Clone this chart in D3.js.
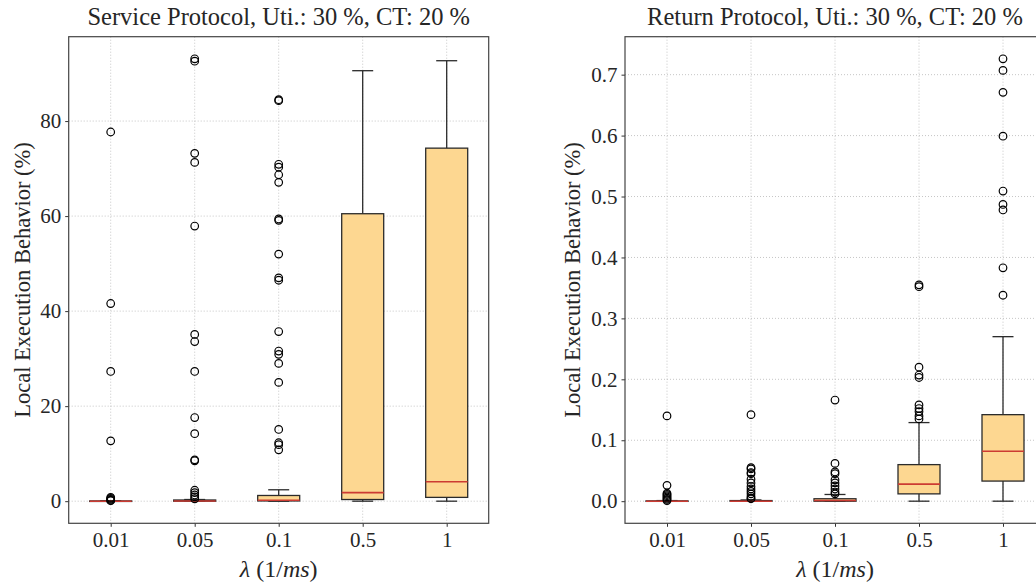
<!DOCTYPE html>
<html>
<head>
<meta charset="utf-8">
<script src="https://cdn.jsdelivr.net/npm/d3@7"></script>
<style>
  body { margin: 0; background: #fff; }
  svg text { font-family: "Liberation Serif", "DejaVu Serif", serif; fill: #262626; }
</style>
</head>
<body>
<svg id="chart" width="1036" height="586"></svg>
<script>
// categories (arrival rate)
const lambdas = ['0.01', '0.05', '0.1', '0.5', '1'];

// service protocol box stats (%)
const serviceLow    = [0, 0, 0, 0, 0];
const serviceQ1     = [0, 0, 0.05, 0.35, 0.8];
const serviceMedian = [0, 0.05, 0.2, 1.8, 4.1];
const serviceQ3     = [0.05, 0.25, 1.2, 60.5, 74.3];
const serviceHigh   = [0.1, 0.35, 2.4, 90.6, 92.7];
const serviceOutliers = [
  [77.7, 41.6, 27.3, 12.7, 0.8, 0.6, 0.4, 0.2, 0.1],
  [93.1, 92.6, 73.2, 71.3, 57.9, 35.1, 33.6, 27.3, 17.6, 14.2, 8.7, 8.5, 2.3, 1.8, 1.3, 0.9, 0.5],
  [84.5, 84.3, 70.9, 70.3, 68.7, 67.1, 59.4, 59.1, 52.0, 47.0, 46.5, 35.7, 31.6, 30.9, 29.0, 25.0, 15.1, 12.3, 11.9, 10.8],
  [],
  []
];

// return protocol box stats (%)
const returnLow    = [0, 0, 0, 0, 0];
const returnQ1     = [0, 0, 0, 0.012, 0.033];
const returnMedian = [0, 0, 0.001, 0.028, 0.082];
const returnQ3     = [0.0005, 0.001, 0.004, 0.060, 0.142];
const returnHigh   = [0.001, 0.002, 0.011, 0.129, 0.270];
const returnOutliers = [
  [0.140, 0.026, 0.013, 0.011, 0.009, 0.007, 0.005, 0.003, 0.001],
  [0.142, 0.055, 0.053, 0.047, 0.045, 0.036, 0.030, 0.024, 0.020, 0.016, 0.012, 0.008, 0.005, 0.004],
  [0.166, 0.062, 0.048, 0.045, 0.035, 0.030, 0.025, 0.020, 0.015, 0.012],
  [0.355, 0.352, 0.220, 0.207, 0.203, 0.158, 0.152, 0.147, 0.140, 0.135],
  [0.726, 0.707, 0.671, 0.599, 0.509, 0.487, 0.478, 0.383, 0.338]
];

const serviceTicks = [0, 20, 40, 60, 80];
const returnTicks = [0, 0.1, 0.2, 0.3, 0.4, 0.5, 0.6, 0.7];

const svg = d3.select('#chart');

const boxFill = '#fdd791';
const medianColor = '#cc3b33';
const edge = '#2b2b2b';

function drawPanel(opts) {
  const left = opts.left, top = 36.7, width = 420, height = 486.6;
  const g = svg.append('g').attr('transform', 'translate(' + left + ',' + top + ')');

  const x = d3.scaleLinear().domain([0.5, 5.5]).range([0, width]);
  const allVals = opts.high.concat(d3.merge(opts.outliers));
  const lo = d3.min(opts.low), hi = d3.max(allVals);
  const pad = (hi - lo) * 0.05;
  const y = d3.scaleLinear().domain([lo - pad, hi + pad]).range([height, 0]);

  const idx = d3.range(1, 6);

  // grid
  g.append('g').selectAll('line.gx').data(idx).enter().append('line')
    .attr('x1', d => x(d)).attr('x2', d => x(d))
    .attr('y1', 0).attr('y2', height)
    .attr('stroke', '#b8b8b8').attr('stroke-width', 0.8).attr('stroke-dasharray', '1,2');
  g.append('g').selectAll('line.gy').data(opts.ticks).enter().append('line')
    .attr('x1', 0).attr('x2', width)
    .attr('y1', d => y(d)).attr('y2', d => y(d))
    .attr('stroke', '#b8b8b8').attr('stroke-width', 0.8).attr('stroke-dasharray', '1,2');

  const bw = 0.5, cw = 0.25;
  const boxes = g.append('g').selectAll('g').data(idx).enter().append('g');

  // whiskers
  boxes.append('line')
    .attr('x1', d => x(d)).attr('x2', d => x(d))
    .attr('y1', d => y(opts.q3[d - 1])).attr('y2', d => y(opts.high[d - 1]))
    .attr('stroke', edge).attr('stroke-width', 1.3);
  boxes.append('line')
    .attr('x1', d => x(d)).attr('x2', d => x(d))
    .attr('y1', d => y(opts.q1[d - 1])).attr('y2', d => y(opts.low[d - 1]))
    .attr('stroke', edge).attr('stroke-width', 1.3);
  boxes.append('line')
    .attr('x1', d => x(d - cw / 2)).attr('x2', d => x(d + cw / 2))
    .attr('y1', d => y(opts.high[d - 1])).attr('y2', d => y(opts.high[d - 1]))
    .attr('stroke', edge).attr('stroke-width', 1.3);
  boxes.append('line')
    .attr('x1', d => x(d - cw / 2)).attr('x2', d => x(d + cw / 2))
    .attr('y1', d => y(opts.low[d - 1])).attr('y2', d => y(opts.low[d - 1]))
    .attr('stroke', edge).attr('stroke-width', 1.3);

  // box
  boxes.append('rect')
    .attr('x', d => x(d - bw / 2))
    .attr('width', x(1 + bw) - x(1))
    .attr('y', d => y(opts.q3[d - 1]))
    .attr('height', d => Math.max(0.5, y(opts.q1[d - 1]) - y(opts.q3[d - 1])))
    .attr('fill', boxFill).attr('stroke', edge).attr('stroke-width', 1.3);

  // median
  boxes.append('line')
    .attr('x1', d => x(d - bw / 2)).attr('x2', d => x(d + bw / 2))
    .attr('y1', d => y(opts.median[d - 1])).attr('y2', d => y(opts.median[d - 1]))
    .attr('stroke', medianColor).attr('stroke-width', 1.6);

  // fliers
  boxes.each(function(d) {
    d3.select(this).selectAll('circle').data(opts.outliers[d - 1]).enter().append('circle')
      .attr('cx', x(d)).attr('cy', v => y(v)).attr('r', 3.8)
      .attr('fill', 'none').attr('stroke', '#000').attr('stroke-width', 1.2);
  });

  // axes
  const xAxis = d3.axisBottom(x).tickValues(idx).tickFormat(d => lambdas[d - 1])
    .tickSize(3.5).tickPadding(5);
  const yAxis = d3.axisLeft(y).tickValues(opts.ticks).tickFormat(opts.fmt)
    .tickSize(3.5).tickPadding(4);

  const gx = g.append('g').attr('transform', 'translate(0,' + height + ')').call(xAxis);
  const gy = g.append('g').call(yAxis);
  [gx, gy].forEach(a => {
    a.select('.domain').remove();
    a.selectAll('line').attr('stroke', '#333').attr('stroke-width', 1);
    a.selectAll('text').style('font-size', '21px').attr('fill', '#262626');
  });

  // frame
  g.append('rect').attr('x', 0).attr('y', 0).attr('width', width).attr('height', height)
    .attr('fill', 'none').attr('stroke', '#444').attr('stroke-width', 1.2);

  // title
  g.append('text').attr('x', width / 2).attr('y', -11.5)
    .attr('text-anchor', 'middle').style('font-size', '24.5px')
    .text(opts.title);

  // x label
  const xl = g.append('text').attr('x', width / 2).attr('y', height + 54)
    .attr('text-anchor', 'middle').style('font-size', '24px');
  xl.append('tspan').style('font-style', 'italic').text('λ');
  xl.append('tspan').text(' (1/');
  xl.append('tspan').style('font-style', 'italic').text('ms');
  xl.append('tspan').text(')');

  // y label
  g.append('text')
    .attr('transform', 'translate(' + opts.ylabelX + ',' + (height / 2) + ') rotate(-90)')
    .attr('text-anchor', 'middle').style('font-size', '22.5px')
    .text('Local Execution Behavior (%)');
}

drawPanel({
  left: 68.7, title: 'Service Protocol, Uti.: 30 %, CT: 20 %',
  low: serviceLow, q1: serviceQ1, median: serviceMedian, q3: serviceQ3, high: serviceHigh,
  outliers: serviceOutliers, ticks: serviceTicks, fmt: d3.format('d'), ylabelX: -39
});

drawPanel({
  left: 625, title: 'Return Protocol, Uti.: 30 %, CT: 20 %',
  low: returnLow, q1: returnQ1, median: returnMedian, q3: returnQ3, high: returnHigh,
  outliers: returnOutliers, ticks: returnTicks, fmt: d3.format('.1f'), ylabelX: -45
});
</script>
</body>
</html>
